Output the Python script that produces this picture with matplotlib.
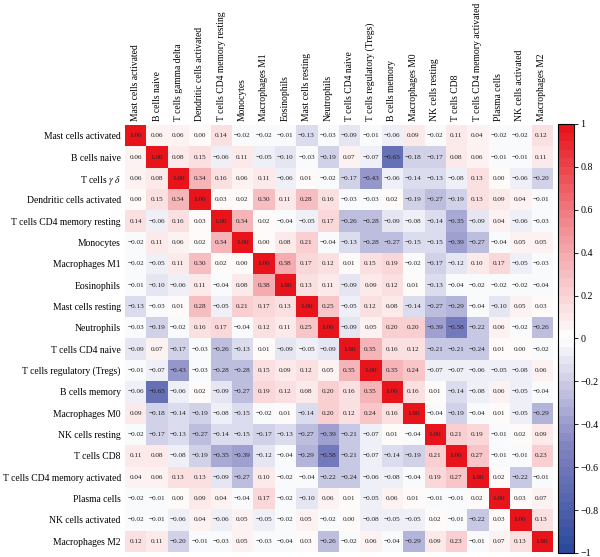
import numpy as np
import matplotlib
matplotlib.use("Agg")
import matplotlib.pyplot as plt
from matplotlib.colors import LinearSegmentedColormap

col_labels = ["Mast cells activated", "B cells naive", "T cells gamma delta",
              "Dendritic cells activated", "T cells CD4 memory resting", "Monocytes",
              "Macrophages M1", "Eosinophils", "Mast cells resting", "Neutrophils",
              "T cells CD4 naive", "T cells regulatory (Tregs)", "B cells memory",
              "Macrophages M0", "NK cells resting", "T cells CD8",
              "T cells CD4 memory activated", "Plasma cells", "NK cells activated",
              "Macrophages M2"]
row_labels = ["Mast cells activated", "B cells naive", "T cells $\\gamma$ $\\delta$",
              "Dendritic cells activated", "T cells CD4 memory resting", "Monocytes",
              "Macrophages M1", "Eosinophils", "Mast cells resting", "Neutrophils",
              "T cells CD4 naive", "T cells regulatory (Tregs)", "B cells memory",
              "Macrophages M0", "NK cells resting", "T cells CD8",
              "T cells CD4 memory activated", "Plasma cells", "NK cells activated",
              "Macrophages M2"]

corr = np.array([
    [1.00, 0.06, 0.06, 0.00, 0.14, -0.02, -0.02, -0.01, -0.13, -0.03, -0.09, -0.01, -0.06, 0.09, -0.02, 0.11, 0.04, -0.02, -0.02, 0.12],
    [0.06, 1.00, 0.08, 0.15, -0.06, 0.11, -0.05, -0.10, -0.03, -0.19, 0.07, -0.07, -0.65, -0.18, -0.17, 0.08, 0.06, -0.01, -0.01, 0.11],
    [0.06, 0.08, 1.00, 0.34, 0.16, 0.06, 0.11, -0.06, 0.01, -0.02, -0.17, -0.43, -0.06, -0.14, -0.13, -0.08, 0.13, 0.00, -0.06, -0.20],
    [0.00, 0.15, 0.34, 1.00, 0.03, 0.02, 0.30, 0.11, 0.28, 0.16, -0.03, -0.03, 0.02, -0.19, -0.27, -0.19, 0.13, 0.09, 0.04, -0.01],
    [0.14, -0.06, 0.16, 0.03, 1.00, 0.34, 0.02, -0.04, -0.05, 0.17, -0.26, -0.28, -0.09, -0.08, -0.14, -0.35, -0.09, 0.04, -0.06, -0.03],
    [-0.02, 0.11, 0.06, 0.02, 0.34, 1.00, 0.00, 0.08, 0.21, -0.04, -0.13, -0.28, -0.27, -0.15, -0.15, -0.39, -0.27, -0.04, 0.05, 0.05],
    [-0.02, -0.05, 0.11, 0.30, 0.02, 0.00, 1.00, 0.38, 0.17, 0.12, 0.01, 0.15, 0.19, -0.02, -0.17, -0.12, 0.10, 0.17, -0.05, -0.03],
    [-0.01, -0.10, -0.06, 0.11, -0.04, 0.08, 0.38, 1.00, 0.13, 0.11, -0.09, 0.09, 0.12, 0.01, -0.13, -0.04, -0.02, -0.02, -0.02, -0.04],
    [-0.13, -0.03, 0.01, 0.28, -0.05, 0.21, 0.17, 0.13, 1.00, 0.25, -0.05, 0.12, 0.08, -0.14, -0.27, -0.29, -0.04, -0.10, 0.05, 0.03],
    [-0.03, -0.19, -0.02, 0.16, 0.17, -0.04, 0.12, 0.11, 0.25, 1.00, -0.09, 0.05, 0.20, 0.20, -0.39, -0.58, -0.22, 0.06, -0.02, -0.26],
    [-0.09, 0.07, -0.17, -0.03, -0.26, -0.13, 0.01, -0.09, -0.05, -0.09, 1.00, 0.35, 0.16, 0.12, -0.21, -0.21, -0.24, 0.01, 0.00, -0.02],
    [-0.01, -0.07, -0.43, -0.03, -0.28, -0.28, 0.15, 0.09, 0.12, 0.05, 0.35, 1.00, 0.35, 0.24, -0.07, -0.07, -0.06, -0.05, -0.08, 0.06],
    [-0.06, -0.65, -0.06, 0.02, -0.09, -0.27, 0.19, 0.12, 0.08, 0.20, 0.16, 0.35, 1.00, 0.16, 0.01, -0.14, -0.08, 0.06, -0.05, -0.04],
    [0.09, -0.18, -0.14, -0.19, -0.08, -0.15, -0.02, 0.01, -0.14, 0.20, 0.12, 0.24, 0.16, 1.00, -0.04, -0.19, -0.04, 0.01, -0.05, -0.29],
    [-0.02, -0.17, -0.13, -0.27, -0.14, -0.15, -0.17, -0.13, -0.27, -0.39, -0.21, -0.07, 0.01, -0.04, 1.00, 0.21, 0.19, -0.01, 0.02, 0.09],
    [0.11, 0.08, -0.08, -0.19, -0.35, -0.39, -0.12, -0.04, -0.29, -0.58, -0.21, -0.07, -0.14, -0.19, 0.21, 1.00, 0.27, -0.01, -0.01, 0.23],
    [0.04, 0.06, 0.13, 0.13, -0.09, -0.27, 0.10, -0.02, -0.04, -0.22, -0.24, -0.06, -0.08, -0.04, 0.19, 0.27, 1.00, 0.02, -0.22, -0.01],
    [-0.02, -0.01, 0.00, 0.09, 0.04, -0.04, 0.17, -0.02, -0.10, 0.06, 0.01, -0.05, 0.06, 0.01, -0.01, -0.01, 0.02, 1.00, 0.03, 0.07],
    [-0.02, -0.01, -0.06, 0.04, -0.06, 0.05, -0.05, -0.02, 0.05, -0.02, 0.00, -0.08, -0.05, -0.05, 0.02, -0.01, -0.22, 0.03, 1.00, 0.13],
    [0.12, 0.11, -0.20, -0.01, -0.03, 0.05, -0.03, -0.04, 0.03, -0.26, -0.02, 0.06, -0.04, -0.29, 0.09, 0.23, -0.01, 0.07, 0.13, 1.00],
])

cbar_ticks = [1, 0.8, 0.6, 0.4, 0.2, 0, -0.2, -0.4, -0.6, -0.8, -1]

plt.rcParams['font.family'] = ['Liberation Serif', 'DejaVu Serif']
plt.rcParams['mathtext.fontset'] = 'stix'

cmap = LinearSegmentedColormap.from_list(
    "rb", [(0, '#2c4a9d'), (0.25, '#8485c2'), (0.5, '#ffffff'),
           (0.75, '#f2959a'), (1, '#e8141c')], N=50)

fig = plt.figure(figsize=(6, 5.57), dpi=100)
ax = fig.add_axes([0.2083, 0.009, 0.7117, 0.7666])
im = ax.imshow(corr, cmap=cmap, vmin=-1, vmax=1, aspect='auto')

n = len(col_labels)
for i in range(n):
    for j in range(n):
        txt = "%.2f" % corr[i, j]
        txt = txt.replace("-", "\u2212")
        ax.text(j, i, txt, ha='center', va='center', fontsize=5.2, color='#222222')

ax.set_xticks(range(n))
ax.set_xticklabels(col_labels, rotation=90, fontsize=6.9)
ax.xaxis.tick_top()
ax.set_yticks(range(n))
ax.set_yticklabels(row_labels, fontsize=6.9)
ax.tick_params(length=0, pad=3)
for s in ax.spines.values():
    s.set_visible(False)

cax = fig.add_axes([0.93, 0.0072, 0.027, 0.7702])
cb = fig.colorbar(im, cax=cax, ticks=cbar_ticks)
cb.ax.set_yticklabels([("%g" % t).replace("-", "\u2212") for t in cbar_ticks], fontsize=7.2)
cb.ax.tick_params(length=3, width=0.6, pad=1.5)
cb.outline.set_linewidth(0.8)

fig.savefig("out.png", dpi=100)
